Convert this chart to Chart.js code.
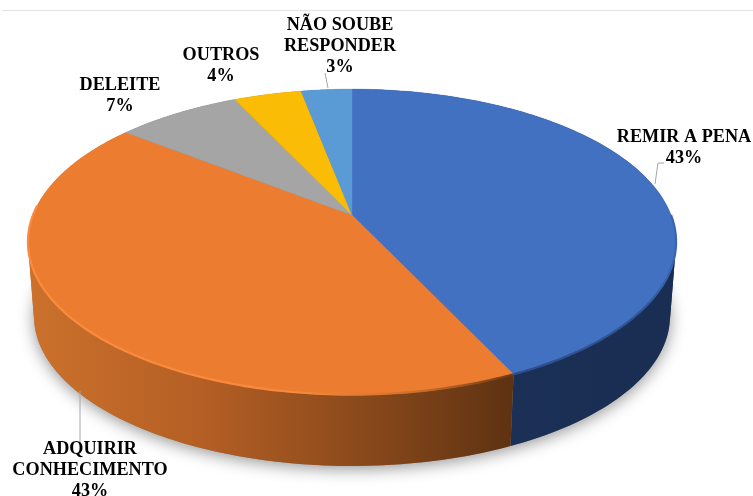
<!DOCTYPE html>
<html><head><meta charset="utf-8">
<style>html,body{margin:0;padding:0;background:#fff;overflow:hidden}canvas{display:block;filter:blur(0.45px)}</style>
<script src="https://cdn.jsdelivr.net/npm/chart.js@4"></script>
</head><body><canvas id="c" width="753" height="496"></canvas>
<script>
const categories = ['REMIR A PENA','ADQUIRIR CONHECIMENTO','DELEITE','OUTROS','NÃO SOUBE RESPONDER'];
const values = [43,42.6,7.4,4,3];
const labelLines = [['REMIR A PENA'],['ADQUIRIR','CONHECIMENTO'],['DELEITE'],['OUTROS'],['NÃO SOUBE','RESPONDER']];
const colors = ['#4271c2','#ec7c30','#a5a5a5','#fbbc05','#5b9bd5'];

// layout of the tilted disc: a perspective mapping of the library's arc angles
const TOP = {hx:352, hy:215, a:319, b:148, k:0.176};
const BOTTOM = {hx:352, hy:290, a:313, b:145, k:0.176};
const labelPos = [[684,137],[90,449],[120,85],[221,55],[340,25]];
const leaders = [
  [[655,184],[658,163],[664,163]],
  [[80,391],[80,443]],
  null,
  null,
  [[328,88],[325,73]]
];
function proj(p,t){ // t: clockwise from 12 o'clock
  const u=Math.sin(t), v=-Math.cos(t), w=1-p.k*v;
  return [p.hx+p.a*u/w, p.hy+p.b*v/w];
}
function grad(ctx,stops,x0,x1){
  const g=ctx.createLinearGradient(x0,0,x1,0);
  stops.forEach(s=>g.addColorStop(s[0],s[1]));
  return g;
}
const wallStops = [
  [[0,'#1b3056'],[1,'#1a2d52']],
  [[0,'#cb712c'],[0.35,'#b55f25'],[0.65,'#8f4c1c'],[1,'#5e3212']],
  [[0,'#6e6e6e'],[1,'#6e6e6e']],
  [[0,'#a87f00'],[1,'#a87f00']],
  [[0,'#3b6a94'],[1,'#3b6a94']]
];
const disc3d = {
  id:'disc3d',
  beforeDatasetDraw(chart,args){
    const ctx=chart.ctx, arcs=args.meta.data, N=120;
    const range=a=>[a.startAngle+Math.PI/2,a.endAngle+Math.PI/2];
    ctx.save();
    // frame rule at the top of the picture
    ctx.strokeStyle='#e2e2e2';ctx.lineWidth=1.2;
    ctx.beginPath();ctx.moveTo(2,10.5);ctx.lineTo(753,10.5);ctx.stroke();
    // soft ground shadow
    ctx.save();
    ctx.shadowColor='rgba(0,0,0,0.42)';ctx.shadowBlur=16;ctx.shadowOffsetY=3;
    ctx.fillStyle='#888';
    ctx.beginPath();
    for(let i=0;i<=240;i++){const q=proj(BOTTOM,i/240*2*Math.PI);i?ctx.lineTo(q[0],q[1]):ctx.moveTo(q[0],q[1]);}
    ctx.closePath();ctx.fill();
    ctx.restore();
    // side walls: quads of one winding go into one path, so no seams and no holes
    arcs.forEach((a,i)=>{
      const [s,e]=range(a);
      const g=grad(ctx,wallStops[i],i===1?30:515,i===1?513:672);
      ctx.fillStyle=g;ctx.strokeStyle=g;ctx.lineWidth=0.6;
      [1,-1].forEach(sign=>{
        ctx.beginPath();
        for(let n=0;n<N;n++){
          const t0=s+(e-s)*n/N,t1=s+(e-s)*(n+1)/N;
          const p=proj(TOP,t0),q=proj(TOP,t1),r=proj(BOTTOM,t1),o=proj(BOTTOM,t0);
          const pts=[p,q,r,o];
          let area=0;
          pts.forEach((c,j)=>{const d=pts[(j+1)%4];area+=c[0]*d[1]-d[0]*c[1];});
          if(area*sign<0) continue;
          ctx.moveTo(p[0],p[1]);ctx.lineTo(q[0],q[1]);ctx.lineTo(r[0],r[1]);ctx.lineTo(o[0],o[1]);ctx.closePath();
        }
        ctx.fill();
      });
    });
    // top faces
    arcs.forEach((a,i)=>{
      const [s,e]=range(a);
      ctx.beginPath();ctx.moveTo(TOP.hx,TOP.hy);
      for(let n=0;n<=N;n++){const q=proj(TOP,s+(e-s)*n/N);ctx.lineTo(q[0],q[1]);}
      ctx.closePath();
      ctx.fillStyle=colors[i];ctx.strokeStyle=colors[i];ctx.lineWidth=0.4;
      ctx.fill();ctx.stroke();
    });
    // bevel on the front rim
    [1,0].forEach(i=>{
      const [s,e]=range(arcs[i]);
      const from=i===1?s:Math.PI*0.5, to=i===1?Math.PI*1.52:e;
      ctx.beginPath();
      for(let n=0;n<=N;n++){
        const q=proj(TOP,from+(to-from)*n/N);
        n?ctx.lineTo(q[0],q[1]):ctx.moveTo(q[0],q[1]);
      }
      ctx.strokeStyle=i===1?grad(ctx,[[0,'#fb8b3f'],[0.55,'#f8893e'],[0.8,'#cf6f2b'],[1,'#6b3b13']],28,514)
                           :grad(ctx,[[0,'#2c4f8c'],[0.8,'#2f5596'],[1,'#3a64ad']],514,672);
      ctx.lineWidth=2.2;ctx.lineJoin='round';ctx.stroke();
    });
    // leaders
    ctx.strokeStyle='#a6a6a6';ctx.lineWidth=1;
    leaders.forEach(l=>{ if(!l) return;
      ctx.beginPath();l.forEach((q,n)=>n?ctx.lineTo(q[0],q[1]):ctx.moveTo(q[0],q[1]));ctx.stroke();
    });
    // labels
    const total=values.reduce((x,y)=>x+y,0);
    ctx.fillStyle='#000';ctx.textAlign='center';ctx.textBaseline='middle';
    ctx.font='bold 18.2px "Liberation Serif"';
    labelLines.forEach((lines,i)=>{
      const all=lines.concat([Math.round(values[i]/total*100)+'%']);
      all.forEach((t,n)=>ctx.fillText(t,labelPos[i][0],labelPos[i][1]+n*21));
    });
    ctx.restore();
    return false;
  }
};
new Chart(document.getElementById('c'),{
  type:'pie',
  data:{labels:categories,datasets:[{data:values,backgroundColor:colors,borderWidth:0}]},
  options:{responsive:false,animation:false,events:[],
    plugins:{legend:{display:false},tooltip:{enabled:false},title:{display:false}}},
  plugins:[disc3d]
});
</script></body></html>
